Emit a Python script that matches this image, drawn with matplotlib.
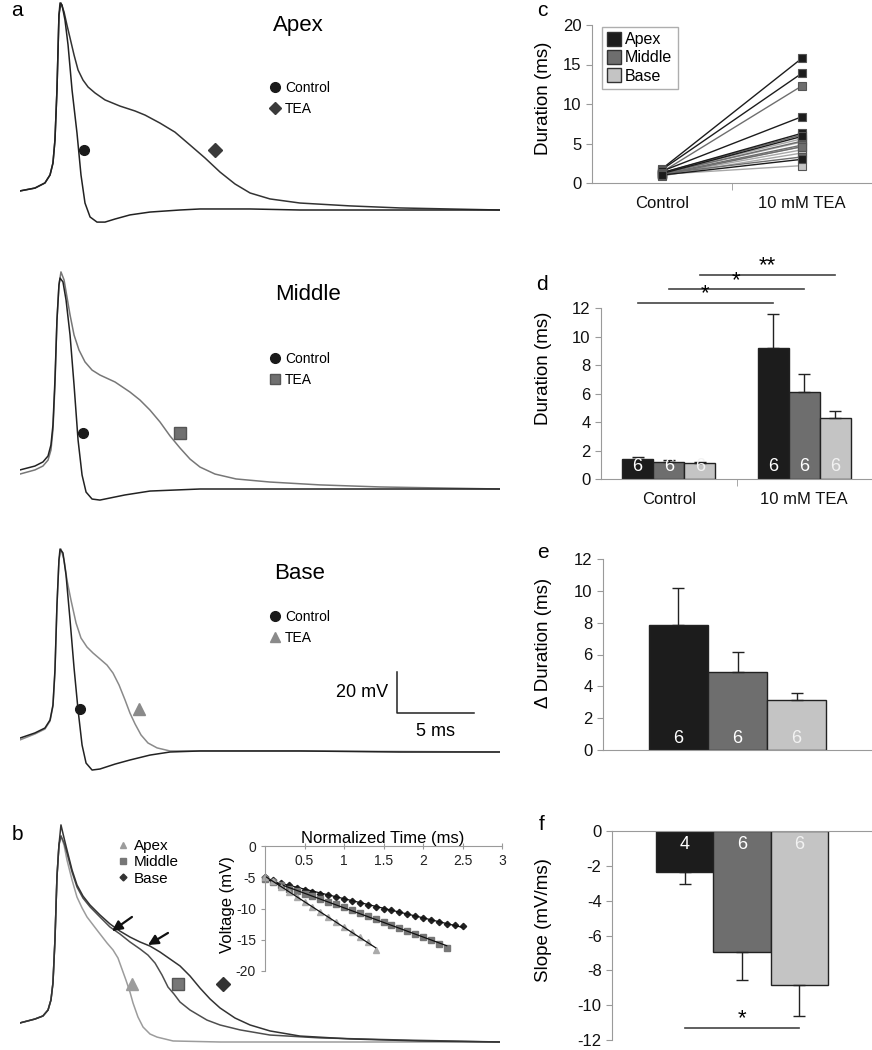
import matplotlib
matplotlib.use('Agg')
import matplotlib.pyplot as plt
import numpy as np
from matplotlib.lines import Line2D

plt.rcParams['font.family'] = ['Liberation Sans', 'DejaVu Sans']
plt.rcParams['axes.unicode_minus'] = False

# ---- panel a: action potential traces (time in ms, voltage in mV) ----
apex_ctrl_t = [0, 0.97, 1.62, 1.95, 2.14, 2.27, 2.40, 2.47, 2.53, 2.60, 2.73, 2.92, 3.12, 3.38, 3.70,
               3.96, 4.22, 4.55, 5.0, 5.52, 6.17, 7.14, 8.44, 10.39, 11.69, 14.94, 18.18, 24.68, 31.17]
apex_ctrl_v = [-60.7, -59.3, -56.8, -52.9, -47.1, -35.9, -11.5, 8.0, 25.1, 31.0, 30.0, 22.7, 10.5, -11.5, -32.4,
               -52.9, -66.6, -73.4, -75.9, -75.9, -74.4, -72.4, -71.0, -70.0, -69.5, -69.5, -70, -70, -70]
apex_tea_t = [0, 0.97, 1.62, 1.95, 2.14, 2.27, 2.40, 2.47, 2.53, 2.66, 2.86, 3.05, 3.25, 3.51, 3.77, 4.09, 4.42,
              4.87, 5.52, 6.49, 7.47, 8.12, 9.09, 10.06, 11.04, 12.01, 12.99, 13.96, 14.94, 16.23, 18.18, 21.43,
              24.68, 27.92, 31.17]
apex_tea_v = [-60.7, -59.3, -56.8, -52.9, -47.1, -35.9, -11.5, 8.0, 25.1, 31.0, 26.6, 20.2, 13.9, 5.6, -1.7, -6.6,
              -10.0, -12.9, -16.3, -19.3, -21.7, -23.7, -27.6, -32.0, -38.3, -44.6, -51.5, -57.3, -61.7, -64.6,
              -66.6, -68.0, -69.0, -69.5, -70]

mid_ctrl_t = [0, 0.97, 1.49, 1.82, 2.01, 2.14, 2.27, 2.40, 2.53, 2.60, 2.79, 2.99, 3.25, 3.51, 3.77, 4.03, 4.29,
              4.68, 5.19, 5.84, 6.82, 8.44, 11.69, 31.17]
mid_ctrl_v = [-60.7, -58.8, -56.8, -53.9, -48.5, -38.8, -16.8, 12.4, 29.5, 32.9, 31.0, 22.2, 5.1, -19.3, -46.1,
              -63.2, -71.5, -74.9, -75.4, -74.4, -72.9, -71.0, -70, -70]
mid_tea_t = [0, 0.97, 1.49, 1.82, 2.01, 2.14, 2.27, 2.40, 2.53, 2.66, 2.86, 3.05, 3.25, 3.51, 3.83, 4.22, 4.68,
             5.19, 6.17, 7.14, 7.79, 8.44, 9.09, 9.74, 10.39, 11.04, 11.69, 12.66, 14.03, 16.23, 19.48, 23.38,
             27.27, 31.17]
mid_tea_v = [-62.7, -60.7, -58.8, -55.9, -51.0, -41.2, -19.3, 12.4, 29.5, 35.9, 32.0, 23.7, 14.9, 5.1, -2.2, -8.0,
             -12.0, -14.4, -17.8, -22.7, -26.6, -31.5, -37.3, -44.1, -50.0, -55.4, -59.3, -62.7, -65.1, -66.6,
             -68.0, -69.0, -69.5, -70]

base_ctrl_t = [0, 0.97, 1.62, 1.95, 2.14, 2.27, 2.40, 2.53, 2.60, 2.79, 2.99, 3.25, 3.51, 3.77, 4.03, 4.29, 4.68,
               5.19, 6.17, 7.14, 8.44, 9.74, 11.69, 18.18, 24.68, 31.17]
base_ctrl_v = [-63.2, -60.7, -58.3, -54.4, -47.1, -30.0, 1.7, 23.7, 29.0, 27.1, 16.3, -5.6, -29.0, -49.5, -66.6,
               -75.4, -78.8, -78.3, -75.9, -73.9, -71.5, -70, -69.5, -69.5, -70, -70]
base_tea_t = [0, 0.97, 1.62, 1.95, 2.14, 2.27, 2.40, 2.53, 2.66, 2.86, 3.05, 3.31, 3.64, 3.96, 4.35, 4.74, 5.19,
              5.65, 6.04, 6.43, 6.82, 7.14, 7.47, 7.86, 8.31, 8.90, 9.74, 11.69, 18.18, 31.17]
base_tea_v = [-64.1, -61.2, -58.8, -54.9, -47.6, -31.0, 1.2, 23.7, 29.0, 23.7, 13.9, 4.1, -7.1, -14.4, -18.8, -21.7,
              -24.6, -27.6, -31.5, -37.3, -44.6, -51.0, -56.3, -61.7, -65.6, -68.0, -69.5, -69.5, -69.5, -70]

# ---- panel b: TEA traces of the three regions ----
b_rise_t = [0, 0.97, 1.49, 1.82, 2.01, 2.14, 2.27, 2.40, 2.53]
b_rise_v = [-60.7, -58.8, -57.3, -54.4, -49.5, -41.2, -20.2, 10.5, 26.1]
b_apex_t = b_rise_t + [2.66, 2.86, 3.05, 3.38, 3.70, 4.03, 4.35, 5.0, 5.65, 6.04, 6.36, 6.62, 6.88, 7.14, 7.34,
                       7.66, 7.99, 8.44, 8.90, 9.94, 12.99, 31.17]
b_apex_v = b_rise_v + [30.5, 26.1, 18.8, 9.0, 0.7, -4.6, -9.0, -15.4, -21.7, -25.1, -29.0, -34.4, -39.8, -45.6,
                       -51.0, -57.8, -62.7, -66.1, -67.6, -69.5, -70.0, -70.0]
b_mid_t = b_rise_t + [2.66, 2.86, 3.05, 3.38, 3.70, 4.09, 4.55, 5.19, 5.84, 6.49, 7.14, 7.79, 8.31, 8.77, 9.22,
                      9.61, 10.0, 10.39, 11.04, 11.69, 12.14, 12.99, 14.29, 16.23, 19.48, 24.68, 31.17]
b_mid_v = b_rise_v + [30.5, 27.1, 22.2, 12.9, 5.6, 0.2, -4.1, -9.0, -13.9, -17.3, -21.2, -24.6, -27.6, -31.5,
                      -37.3, -43.2, -46.6, -50.5, -54.4, -57.3, -59.3, -61.7, -64.1, -66.6, -68.0, -69.0, -70.0]
b_base_t = b_rise_t + [2.66, 2.86, 3.05, 3.38, 3.70, 4.09, 4.55, 5.19, 5.84, 6.49, 7.14, 7.79, 8.44, 9.09, 9.74,
                       10.39, 11.04, 11.69, 12.34, 12.99, 13.96, 14.94, 16.23, 18.18, 21.43, 25.97, 31.17]
b_base_v = b_rise_v + [35.9, 29.5, 23.7, 13.9, 6.6, 1.2, -3.2, -8.0, -12.4, -15.9, -18.8, -21.2, -23.2, -26.1,
                       -29.5, -32.9, -37.8, -43.7, -49.0, -53.4, -58.3, -61.7, -64.6, -67.1, -68.5, -69.5, -70.0]

# inset: repolarisation phase, normalized time
ins_apex_t = [0.0, 0.1, 0.2, 0.3, 0.4, 0.5, 0.6, 0.7, 0.8, 0.9, 1.0, 1.1, 1.2, 1.3, 1.4]
ins_apex_v = [-5.0, -5.6, -6.5, -7.3, -8.1, -8.9, -9.7, -10.5, -11.3, -12.1, -12.9, -13.8, -14.6, -15.4, -16.6]
ins_mid_t = [0.0, 0.1, 0.2, 0.3, 0.4, 0.5, 0.6, 0.7, 0.8, 0.9, 1.0, 1.1, 1.2, 1.3, 1.4, 1.5, 1.6, 1.7, 1.8,
             1.9, 2.0, 2.1, 2.2, 2.3]
ins_mid_v = [-5.3, -5.8, -6.3, -6.8, -7.2, -7.6, -8.0, -8.4, -8.9, -9.3, -9.8, -10.2, -10.7, -11.2, -11.6, -12.1,
             -12.6, -13.1, -13.6, -14.1, -14.6, -15.1, -15.6, -16.3]
ins_base_t = [0.0, 0.1, 0.2, 0.3, 0.4, 0.5, 0.6, 0.7, 0.8, 0.9, 1.0, 1.1, 1.2, 1.3, 1.4, 1.5, 1.6, 1.7, 1.8,
              1.9, 2.0, 2.1, 2.2, 2.3, 2.4, 2.5]
ins_base_v = [-5.0, -5.5, -5.9, -6.3, -6.7, -7.0, -7.3, -7.6, -7.9, -8.2, -8.5, -8.8, -9.1, -9.4, -9.7, -10.0,
              -10.3, -10.6, -10.9, -11.2, -11.5, -11.8, -12.1, -12.4, -12.6, -12.8]

# ---- panel c: paired durations (ms) ----
c_apex_ctrl = [1.8, 1.7, 1.5, 1.3, 1.2, 1.0]
c_apex_tea = [15.8, 13.9, 8.4, 6.3, 5.9, 3.0]
c_mid_ctrl = [1.4, 1.3, 1.2, 1.1, 1.0, 1.2]
c_mid_tea = [12.3, 6.1, 5.3, 4.8, 4.6, 3.3]
c_base_ctrl = [1.3, 1.2, 1.1, 1.0, 0.9, 1.1]
c_base_tea = [5.6, 5.2, 4.6, 4.2, 3.8, 2.2]

# ---- panel d: mean durations ----
conditions = ['Control', '10 mM TEA']
regions = ['Apex', 'Middle', 'Base']
d_apex = [1.4, 9.2]
d_apex_err = [0.15, 2.4]
d_mid = [1.2, 6.1]
d_mid_err = [0.1, 1.3]
d_base = [1.1, 4.3]
d_base_err = [0.08, 0.5]
d_n = [6, 6, 6]

# ---- panel e: change in duration ----
e_delta = [7.85, 4.9, 3.15]
e_err = [2.3, 1.25, 0.45]
e_n = [6, 6, 6]

# ---- panel f: slope ----
f_slope = [-2.35, -6.95, -8.85]
f_err = [0.7, 1.6, 1.75]
f_n = [4, 6, 6]

C_APEX = '#1c1c1c'
C_MID = '#6e6e6e'
C_BASE = '#c4c4c4'
SPINE = '#9a9a9a'

W, H = 872, 1050
fig = plt.figure(figsize=(W / 100, H / 100), dpi=100)


def px_axes(x0, y0, x1, y1):
    return fig.add_axes([x0 / W, 1 - y1 / H, (x1 - x0) / W, (y1 - y0) / H])


MS_PX = 15.4
MV_PX = 2.05


def trace_axes(y0, y1, rest_px):
    ax = px_axes(20, y0, 500, y1)
    ax.set_xlim(0, 480 / MS_PX)
    ax.set_ylim(-70 - (y1 - rest_px) / MV_PX, -70 + (rest_px - y0) / MV_PX)
    ax.axis('off')
    return ax


def trace_legend(ax, handles, labels, x, y, fs=10, spacing=0.5):
    ax.legend(handles, labels, loc='upper left', bbox_to_anchor=(x, y), frameon=False, fontsize=fs,
              handlelength=0.8, handletextpad=0.3, borderpad=0, borderaxespad=0, labelspacing=spacing)


def mk(marker, color, ms=7):
    return Line2D([], [], ls='none', marker=marker, color=color, markersize=ms)


# apex
ax = trace_axes(0, 230, 210)
ax.plot(apex_tea_t, apex_tea_v, color='#333333', lw=1.1)
ax.plot(apex_ctrl_t, apex_ctrl_v, color='#222222', lw=1.1)
ax.plot(4.16, -40.7, 'o', color='#1a1a1a', ms=7)
ax.plot(12.66, -40.7, 'D', color='#3a3a3a', ms=7)
ax.text(0.579, 0.89, 'Apex', transform=ax.transAxes, fontsize=16, ha='center', va='center')
trace_legend(ax, [mk('o', '#1a1a1a'), mk('D', '#3a3a3a', 6)], ['Control', 'TEA'], 0.52, 0.648)

# middle
ax = trace_axes(270, 510, 489)
ax.plot(mid_tea_t, mid_tea_v, color='#777777', lw=1.1)
ax.plot(mid_ctrl_t, mid_ctrl_v, color='#222222', lw=1.1)
ax.plot(4.09, -42.7, 'o', color='#1a1a1a', ms=7)
ax.plot(10.39, -42.7, 's', color='#707070', mec='#555555', ms=8)
ax.text(0.6, 0.896, 'Middle', transform=ax.transAxes, fontsize=16, ha='center', va='center')
trace_legend(ax, [mk('o', '#1a1a1a'), Line2D([], [], ls='none', marker='s', color='#707070', mec='#555555', ms=7)],
             ['Control', 'TEA'], 0.52, 0.658)

# base
ax = trace_axes(540, 800, 752)
ax.plot(base_tea_t, base_tea_v, color='#8a8a8a', lw=1.1)
ax.plot(base_ctrl_t, base_ctrl_v, color='#222222', lw=1.1)
ax.plot(3.90, -49.0, 'o', color='#1a1a1a', ms=7)
ax.plot(7.73, -49.0, '^', color='#8a8a8a', ms=8)
ax.text(0.583, 0.873, 'Base', transform=ax.transAxes, fontsize=16, ha='center', va='center')
trace_legend(ax, [mk('o', '#1a1a1a'), mk('^', '#8a8a8a')], ['Control', 'TEA'], 0.52, 0.731)
# scale bar 20 mV / 5 ms
ax.plot([24.5, 24.5, 29.5], [-31, -51, -51], color='#222222', lw=1.1)
ax.text(23.9, -41, '20 mV', fontsize=13, ha='right', va='center')
ax.text(27.0, -56, '5 ms', fontsize=13, ha='center', va='top')

# panel b
ax = trace_axes(815, 1050, 1042)
ax.plot(b_apex_t, b_apex_v, color='#9c9c9c', lw=1.1)
ax.plot(b_mid_t, b_mid_v, color='#4e4e4e', lw=1.1)
ax.plot(b_base_t, b_base_v, color='#333333', lw=1.1)
ax.plot(7.27, -41.7, '^', color='#9c9c9c', ms=9)
ax.plot(10.26, -41.7, 's', color='#777777', mec='#555555', ms=9)
ax.plot(13.18, -41.7, 'D', color='#333333', ms=7)
for (tx, ty, hx, hy) in [(7.27, -9.0, 5.97, -15.9), (9.61, -16.8, 8.31, -22.7)]:
    ax.annotate('', xy=(hx, hy), xytext=(tx, ty),
                arrowprops=dict(arrowstyle='-|>,head_length=0.6,head_width=0.3', color='#111111', lw=1.6,
                                shrinkA=0, shrinkB=0))
trace_legend(ax, [mk('^', '#9c9c9c', 5), mk('s', '#777777', 5), mk('D', '#333333', 3.5)],
             ['Apex', 'Middle', 'Base'], 0.202, 0.898, fs=11, spacing=0.15)

# inset
axi = px_axes(265, 846, 502, 971)
axi.set_xlim(0, 3)
axi.set_ylim(-20, 0)
for s in ['top', 'right']:
    axi.spines[s].set_visible(False)
axi.spines['bottom'].set_position(('data', 0))
for s in ['bottom', 'left']:
    axi.spines[s].set_color(SPINE)
axi.set_xticks([0.5, 1, 1.5, 2, 2.5, 3])
axi.set_xticklabels(['0.5', '1', '1.5', '2', '2.5', '3'])
axi.set_yticks([0, -5, -10, -15, -20])
axi.tick_params(colors=SPINE, labelcolor='#222222', labelsize=10, length=3)
axi.tick_params(axis='x', direction='inout', length=5)
for tt, vv, m, col, ms in [(ins_base_t, ins_base_v, 'D', '#222222', 3.2), (ins_mid_t, ins_mid_v, 's', '#777777', 4.5),
                           (ins_apex_t, ins_apex_v, '^', '#aaaaaa', 5)]:
    axi.plot(tt, vv, ls='none', marker=m, color=col, ms=ms, clip_on=False)
    k, b0 = np.polyfit(tt, vv, 1)
    axi.plot([tt[0], tt[-1]], [k * tt[0] + b0, k * tt[-1] + b0], color='#111111', lw=0.9)
fig.text(383 / W, 1 - 838 / H, 'Normalized Time (ms)', fontsize=12, ha='center', va='center')
fig.text(227 / W, 1 - 905 / H, 'Voltage (mV)', fontsize=12, ha='center', va='center', rotation=90)


def style_right(ax):
    for s in ['top', 'right']:
        ax.spines[s].set_visible(False)
    for s in ['left', 'bottom']:
        ax.spines[s].set_color(SPINE)
    ax.tick_params(colors=SPINE, labelcolor='#111111', labelsize=12, length=4)


# panel c
axc = px_axes(592, 25, 872, 183)
style_right(axc)
axc.set_xlim(-0.5, 1.5)
axc.set_ylim(0, 20)
axc.set_yticks([0, 5, 10, 15, 20])
for ctrl, tea, col in [(c_base_ctrl, c_base_tea, C_BASE), (c_mid_ctrl, c_mid_tea, C_MID),
                       (c_apex_ctrl, c_apex_tea, C_APEX)]:
    for a, b1 in zip(ctrl, tea):
        axc.plot([0, 1], [a, b1], color=col if col != C_BASE else '#a8a8a8', lw=1,
                 marker='s', ms=6, mfc=col, mec='#555555', mew=0.8)
axc.set_xticks([0, 1])
axc.set_xticklabels(conditions)
axc.set_xticks([0.5], minor=True)
axc.tick_params(axis='x', which='major', length=0, pad=9)
axc.tick_params(axis='x', which='minor', length=5, colors=SPINE)
axc.legend([Line2D([], [], ls='none', marker='s', ms=10, mfc=c, mec='#333333') for c in [C_APEX, C_MID, C_BASE]],
           regions, loc='upper left', bbox_to_anchor=(0.036, 0.99), fontsize=11.5, fancybox=False,
           edgecolor=SPINE, handlelength=0.8, handletextpad=0.3, borderpad=0.35, labelspacing=0.2,
           borderaxespad=0)

colors = [C_APEX, C_MID, C_BASE]
n_cols = ['white', 'white', '#f2f2f2']

# panel d
axd = px_axes(601, 308, 872, 479)
style_right(axd)
axd.set_xlim(-0.5, 1.5)
axd.set_ylim(0, 12)
axd.set_yticks(range(0, 13, 2))
xg = np.arange(len(conditions))
offs = [-0.23, 0, 0.23]
for i, (m, e) in enumerate([(d_apex, d_apex_err), (d_mid, d_mid_err), (d_base, d_base_err)]):
    xx = xg + offs[i]
    axd.bar(xx, m, width=0.23, color=colors[i], edgecolor='#222222', lw=1)
    axd.errorbar(xx, m, yerr=[[0] * len(e), e], fmt='none', ecolor='#222222', elinewidth=1, capsize=4)
    for x1 in xx:
        axd.text(x1, 0.25, str(d_n[i]), color=n_cols[i], fontsize=13, ha='center', va='bottom')
axd.set_xticks(xg)
axd.set_xticklabels(conditions)
axd.set_xticks([0.5], minor=True)
axd.tick_params(axis='x', which='major', length=0, pad=9)
axd.tick_params(axis='x', which='minor', length=5, colors=SPINE)
for i, ylev, star in [(0, 12.35, '*'), (1, 13.3, '*'), (2, 14.3, '**')]:
    x0, x1 = xg[0] + offs[i], xg[1] + offs[i]
    axd.plot([x0, x1], [ylev, ylev], color='#444444', lw=1.2, clip_on=False)
    axd.text((x0 + x1) / 2, ylev - 0.1, star, fontsize=16, ha='center', va='bottom')

# panel e
axe = px_axes(603, 559, 872, 750)
style_right(axe)
axe.set_xlim(-0.5, 0.5)
axe.set_ylim(0, 12)
axe.set_yticks(range(0, 13, 2))
xe = np.array([-0.22, 0, 0.22])
axe.bar(xe, e_delta, width=0.22, color=colors, edgecolor='#222222', lw=1)
axe.errorbar(xe, e_delta, yerr=[[0] * 3, e_err], fmt='none', ecolor='#222222', elinewidth=1, capsize=4)
for i, x1 in enumerate(xe):
    axe.text(x1, 0.2, str(e_n[i]), color=n_cols[i], fontsize=13, ha='center', va='bottom')
axe.set_xticks([])

# panel f
axf = px_axes(612, 831, 872, 1040)
style_right(axf)
axf.spines['bottom'].set_visible(False)
axf.spines['top'].set_visible(True)
axf.spines['top'].set_color(SPINE)
axf.set_xlim(-0.5, 0.5)
axf.set_ylim(-12, 0)
axf.set_yticks(range(-12, 1, 2))
xf = np.array([-0.22, 0, 0.22])
axf.bar(xf, f_slope, width=0.22, color=colors, edgecolor='#222222', lw=1)
axf.errorbar(xf, f_slope, yerr=[f_err, [0] * 3], fmt='none', ecolor='#222222', elinewidth=1, capsize=4)
for i, x1 in enumerate(xf):
    axf.text(x1, -0.3, str(f_n[i]), color=n_cols[i], fontsize=13, ha='center', va='top')
axf.set_xticks([])
axf.plot([xf[0], xf[2]], [-11.3, -11.3], color='#444444', lw=1.2)
axf.text(0, -11.4, '*', fontsize=16, ha='center', va='bottom')

# axis titles and panel letters
fig.text(543 / W, 1 - 98 / H, 'Duration (ms)', fontsize=13.5, rotation=90, ha='center', va='center')
fig.text(543 / W, 1 - 368 / H, 'Duration (ms)', fontsize=13.5, rotation=90, ha='center', va='center')
fig.text(543 / W, 1 - 643 / H, '\u0394 Duration (ms)', fontsize=13.5, rotation=90, ha='center', va='center')
fig.text(543 / W, 1 - 920 / H, 'Slope (mV/ms)', fontsize=13.5, rotation=90, ha='center', va='center')
for letter, x, y in [('a', 17, 10), ('b', 17, 835), ('c', 542, 10), ('d', 542, 285), ('e', 543, 553),
                     ('f', 542, 825)]:
    fig.text(x / W, 1 - y / H, letter, fontsize=15, ha='center', va='center')

fig.savefig('out.png', dpi=100)
